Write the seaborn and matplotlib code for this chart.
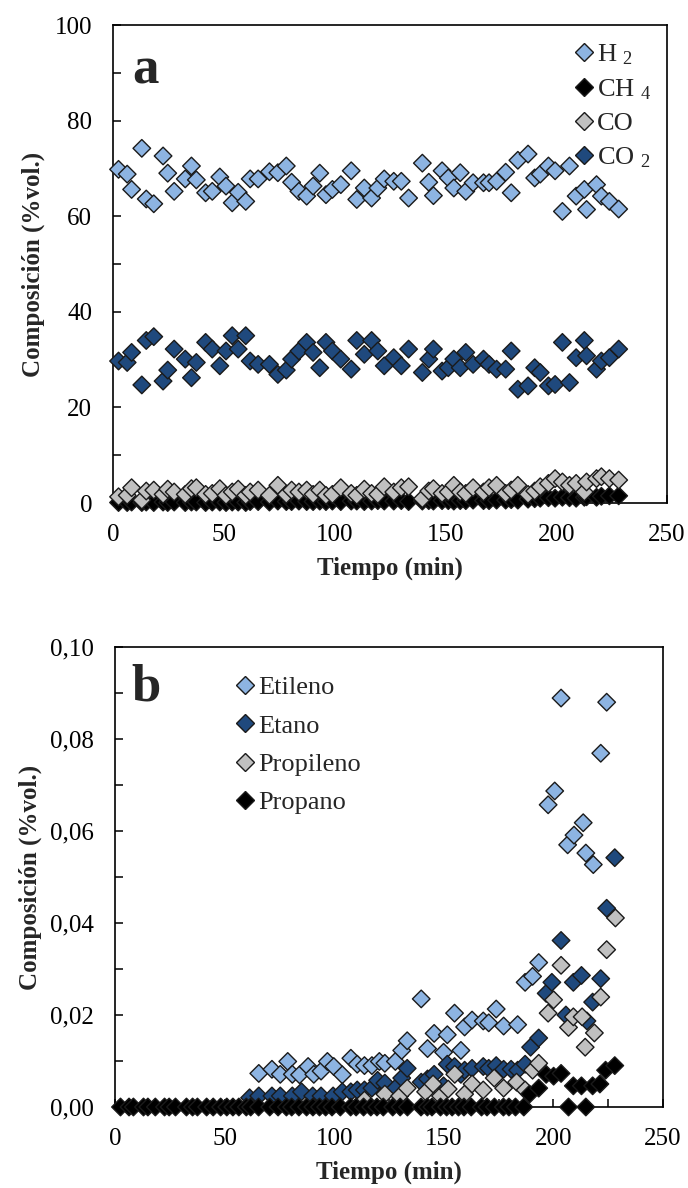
import numpy as np
import pandas as pd
import matplotlib
matplotlib.use("Agg")
import matplotlib.pyplot as plt
import seaborn as sns
from matplotlib.lines import Line2D
from matplotlib.ticker import MultipleLocator, FuncFormatter

# ---------------- datos panel a (gases permanentes, %vol.) ----------------
tiempo = [2.5, 6.4, 8.4, 13.0, 15.0, 18.4, 22.6, 24.7, 27.6, 32.6,
          35.4, 37.6, 41.8, 44.8, 48.2, 51.0, 53.8, 56.5, 59.9, 61.9,
          65.5, 70.6, 74.4, 78.2, 80.6, 83.9, 87.4, 90.3, 93.3, 96.1,
          99.0, 102.8, 107.5, 110.0, 113.4, 116.7, 119.5, 122.4, 126.7, 130.1,
          133.4, 139.6, 142.5, 144.6, 148.5, 151.3, 153.8, 156.7, 159.2, 162.5,
          167.2, 169.7, 173.1, 177.2, 179.7, 182.7, 187.3, 190.3, 192.8, 196.5,
          199.5, 202.8, 206.0, 209.0, 212.7, 213.7, 218.2, 220.4, 224.0, 228.2]

h2 = [69.8, 68.8, 65.6, 74.2, 63.6, 62.6, 72.6, 69.0, 65.2, 67.8,
      70.5, 67.6, 64.9, 65.2, 68.2, 66.3, 62.8, 65.0, 63.1, 67.8,
      67.8, 69.3, 69.1, 70.5, 67.1, 65.2, 64.2, 66.3, 69.0, 64.5,
      65.6, 66.6, 69.5, 63.5, 65.9, 63.8, 65.9, 67.8, 67.3, 67.3,
      63.8, 71.1, 67.1, 64.3, 69.5, 68.0, 65.9, 69.1, 65.2, 67.0,
      67.0, 67.0, 67.3, 69.2, 64.9, 71.7, 73.0, 68.0, 68.8, 70.5,
      69.5, 61.0, 70.5, 64.2, 65.6, 61.4, 66.6, 64.2, 63.1, 61.5]

ch4 = [0.1, 0.1, 0.2, 0.1, 0.2, 0.1, 0.2, 0.1, 0.2, 0.1,
       0.2, 0.2, 0.1, 0.2, 0.2, 0.1, 0.2, 0.2, 0.1, 0.3,
       0.3, 0.2, 0.4, 0.3, 0.3, 0.4, 0.3, 0.3, 0.4, 0.3,
       0.4, 0.3, 0.4, 0.4, 0.3, 0.4, 0.5, 0.4, 0.4, 0.5,
       0.3, 0.4, 0.5, 0.4, 0.5, 0.5, 0.4, 0.5, 0.5, 0.6,
       0.5, 0.5, 0.6, 0.6, 0.7, 0.6, 0.8, 0.9, 1.0, 1.1,
       1.0, 1.2, 1.1, 1.0, 1.2, 1.3, 1.2, 1.4, 1.5, 1.5]

co = [1.3, 1.6, 3.2, 0.6, 2.5, 2.7, 1.8, 2.9, 2.3, 1.8,
      3.0, 3.2, 1.8, 2.0, 3.0, 1.6, 2.3, 2.9, 1.6, 2.3,
      2.7, 1.6, 3.7, 1.8, 2.7, 2.3, 2.7, 1.8, 2.7, 1.6,
      1.8, 3.2, 2.0, 1.6, 2.9, 2.0, 1.8, 3.4, 2.3, 3.2,
      3.4, 0.9, 2.5, 3.0, 2.0, 2.3, 3.7, 2.3, 2.0, 3.2,
      2.3, 3.2, 3.7, 2.0, 2.7, 3.7, 1.8, 2.5, 3.4, 4.1,
      5.1, 4.4, 3.7, 4.1, 2.3, 4.4, 5.1, 5.5, 5.1, 4.8]

co2 = [29.7, 29.4, 31.5, 24.7, 34.0, 34.8, 25.5, 27.8, 32.2, 30.1,
       26.2, 29.4, 33.6, 32.2, 28.7, 31.8, 35.0, 32.2, 35.0, 29.7,
       29.0, 29.0, 26.9, 27.8, 30.1, 31.8, 33.6, 31.5, 28.3, 33.6,
       31.8, 30.1, 28.0, 34.0, 31.1, 34.0, 31.8, 28.7, 30.4, 28.7,
       32.2, 27.3, 30.1, 32.2, 27.6, 28.3, 30.1, 28.3, 31.5, 29.0,
       30.1, 29.0, 28.0, 28.0, 31.8, 23.8, 24.5, 28.3, 27.3, 24.5,
       24.8, 33.6, 25.2, 30.4, 34.0, 30.8, 28.0, 29.7, 30.4, 32.2]

# ---------------- datos panel b (hidrocarburos C2-C3, %vol.) ----------------
t_etileno = [65.6, 71.6, 75.4, 78.8, 80.9, 84.2, 88.1, 90.7, 94.0, 96.9,
             99.8, 103.7, 107.6, 110.5, 113.8, 117.2, 120.6, 123.1, 127.9, 130.8,
             133.3, 139.7, 142.6, 145.6, 149.9, 151.6, 154.9, 157.8, 159.5, 162.9,
             168.0, 170.5, 173.9, 177.3, 183.7, 187.1, 190.5, 193.3, 197.6, 200.6,
             203.5, 206.5, 209.4, 213.6, 214.8, 218.2, 221.6, 224.3]
etileno = [0.0073, 0.0082, 0.0071, 0.0099, 0.0071, 0.0070, 0.0088, 0.0071, 0.0078, 0.0099,
           0.0088, 0.0070, 0.0106, 0.0093, 0.0090, 0.0090, 0.0099, 0.0095, 0.0099, 0.0123,
           0.0144, 0.0235, 0.0127, 0.0160, 0.0119, 0.0157, 0.0204, 0.0123, 0.0174, 0.0189,
           0.0187, 0.0183, 0.0213, 0.0176, 0.0179, 0.0271, 0.0284, 0.0314, 0.0657, 0.0687,
           0.0889, 0.0570, 0.0591, 0.0618, 0.0552, 0.0527, 0.0769, 0.0880]

t_etano = [61.4, 65.6, 71.6, 75.4, 80.9, 85.1, 90.2, 94.0, 99.5, 103.7,
           107.6, 110.5, 113.8, 117.2, 119.8, 123.1, 127.9, 130.8, 133.3, 139.7,
           142.6, 145.6, 149.9, 151.6, 154.9, 157.8, 159.5, 162.9, 168.0, 170.5,
           173.9, 177.3, 180.7, 183.7, 187.1, 189.6, 193.3, 196.7, 199.3, 203.5,
           205.7, 209.1, 212.8, 215.3, 217.9, 221.6, 224.3, 228.0]
etano = [0.0020, 0.0024, 0.0024, 0.0024, 0.0024, 0.0033, 0.0024, 0.0024, 0.0024, 0.0033,
         0.0033, 0.0037, 0.0037, 0.0041, 0.0058, 0.0052, 0.0041, 0.0063, 0.0084, 0.0054,
         0.0061, 0.0071, 0.0046, 0.0093, 0.0088, 0.0071, 0.0080, 0.0084, 0.0088, 0.0084,
         0.0090, 0.0082, 0.0082, 0.0080, 0.0093, 0.0130, 0.0150, 0.0247, 0.0271, 0.0362,
         0.0200, 0.0271, 0.0286, 0.0187, 0.0228, 0.0279, 0.0432, 0.0542]

t_propileno = [113.8, 123.1, 129.9, 133.3, 141.7, 145.1, 148.5, 152.0, 155.0, 159.5,
               162.9, 168.0, 173.0, 177.3, 183.2, 187.1, 190.5, 193.3, 197.6, 200.1,
               203.5, 206.9, 209.1, 213.1, 214.5, 218.7, 221.6, 224.3, 228.3]
propileno = [0.0015, 0.0028, 0.0024, 0.0041, 0.0033, 0.0050, 0.0024, 0.0039, 0.0071, 0.0028,
             0.0050, 0.0037, 0.0063, 0.0041, 0.0054, 0.0037, 0.0080, 0.0095, 0.0204, 0.0233,
             0.0308, 0.0173, 0.0196, 0.0196, 0.0130, 0.0161, 0.0239, 0.0342, 0.0411]

t_propano = [2.5, 6.4, 8.4, 13.0, 15.0, 18.4, 22.6, 24.7, 27.6, 32.6,
             35.4, 37.6, 41.8, 44.8, 48.2, 51.0, 53.8, 56.5, 59.9, 61.9,
             65.5, 70.6, 74.4, 78.2, 80.6, 83.9, 87.4, 90.3, 93.3, 96.1,
             99.0, 102.8, 107.5, 110.0, 113.4, 116.7, 119.5, 122.4, 126.7, 130.1,
             133.4, 139.6, 142.5, 144.6, 148.5, 151.3, 153.8, 156.7, 159.2, 162.5,
             167.2, 169.7, 173.1, 177.2, 179.7, 182.7, 186.5, 189.1, 193.3, 196.7,
             200.1, 203.5, 206.9, 209.1, 212.8, 214.8, 217.9, 221.2, 223.8, 228.0]
propano = [0.0, 0.0, 0.0, 0.0, 0.0, 0.0, 0.0, 0.0, 0.0, 0.0,
           0.0, 0.0, 0.0, 0.0, 0.0, 0.0, 0.0, 0.0, 0.0, 0.0,
           0.0, 0.0, 0.0, 0.0, 0.0, 0.0, 0.0, 0.0, 0.0, 0.0,
           0.0, 0.0, 0.0, 0.0, 0.0, 0.0, 0.0, 0.0, 0.0, 0.0,
           0.0, 0.0, 0.0, 0.0, 0.0, 0.0, 0.0, 0.0, 0.0, 0.0,
           0.0, 0.0, 0.0, 0.0, 0.0, 0.0, 0.0, 0.0028, 0.0041, 0.0071,
           0.0067, 0.0073, 0.0, 0.0046, 0.0046, 0.0, 0.0046, 0.0050, 0.0080, 0.0090]

# colores
AZUL_CLARO = "#8DB4E2"
AZUL_OSCURO = "#1F497D"
GRIS = "#C0C0C0"
NEGRO = "#000000"
BORDE = "#1a1a1a"

series_a = [("H $_2$", tiempo, h2, AZUL_CLARO),
            ("CH $_4$", tiempo, ch4, NEGRO),
            ("CO", tiempo, co, GRIS),
            ("CO $_2$", tiempo, co2, AZUL_OSCURO)]
series_b = [("Etileno", t_etileno, etileno, AZUL_CLARO),
            ("Etano", t_etano, etano, AZUL_OSCURO),
            ("Propileno", t_propileno, propileno, GRIS),
            ("Propano", t_propano, propano, NEGRO)]

sns.set_style("ticks")
plt.rcParams["font.family"] = ["Liberation Serif", "DejaVu Serif"]
plt.rcParams["mathtext.fontset"] = "custom"
plt.rcParams["mathtext.rm"] = "Liberation Serif"
plt.rcParams["mathtext.it"] = "Liberation Serif:italic"
plt.rcParams["mathtext.bf"] = "Liberation Serif:bold"

FS = 18
FS_LEG = 19
S_MARK = 80
MS_LEG = 9.0


def armar_df(series):
    partes = []
    for nombre, t, v, _ in series:
        partes.append(pd.DataFrame({"Tiempo": t, "Comp": v, "Serie": nombre}))
    return pd.concat(partes, ignore_index=True)


def dibujar_panel(ax, series, ymax, ymaj, ymin_step):
    df = armar_df(series)
    paleta = {n: c for n, _, _, c in series}
    sns.scatterplot(data=df, x="Tiempo", y="Comp", hue="Serie", palette=paleta,
                    marker="D", s=S_MARK, edgecolor=BORDE, linewidth=1.0,
                    legend=False, ax=ax, clip_on=False, zorder=3)
    ax.set_xlim(0, 250)
    ax.set_ylim(0, ymax)
    ax.xaxis.set_major_locator(MultipleLocator(50))
    ax.xaxis.set_minor_locator(MultipleLocator(25))
    ax.yaxis.set_major_locator(MultipleLocator(ymaj))
    ax.yaxis.set_minor_locator(MultipleLocator(ymin_step))
    ax.tick_params(which="both", direction="in", length=5.5, width=1.1,
                   top=False, right=False, colors="black")
    ax.tick_params(axis="x", which="major", pad=15, labelsize=FS)
    ax.tick_params(axis="y", which="major", pad=15, labelsize=FS)
    for sp in ax.spines.values():
        sp.set_color("black")
        sp.set_linewidth(1.2)
    ax.set_xlabel("Tiempo (min)", fontsize=FS, fontweight="bold")
    ax.set_ylabel("Composición (%vol.)", fontsize=FS, fontweight="bold")
    handles = [Line2D([], [], ls="none", marker="D", markersize=MS_LEG,
                      markerfacecolor=c, markeredgecolor=BORDE, markeredgewidth=1.0)
               for _, _, _, c in series]
    etiquetas = [n for n, _, _, _ in series]
    return handles, etiquetas


fig = plt.figure(figsize=(6.88, 11.88), dpi=100)
ax_a = fig.add_axes([113 / 688, 1 - 503 / 1188, 554 / 688, 478 / 1188])
ax_b = fig.add_axes([115 / 688, 1 - 1107 / 1188, 548 / 688, 460 / 1188])

h_a, l_a = dibujar_panel(ax_a, series_a, 100, 20, 10)
h_b, l_b = dibujar_panel(ax_b, series_b, 0.10, 0.02, 0.01)
ax_b.yaxis.set_major_formatter(FuncFormatter(lambda v, p: f"{v:.2f}".replace(".", ",")))

ax_a.xaxis.set_label_coords(0.5, -0.112)
ax_b.xaxis.set_label_coords(0.5, -0.117)
ax_a.yaxis.set_label_coords(-0.123, 0.5)
ax_b.yaxis.set_label_coords(-0.133, 0.5)

ax_a.legend(h_a, l_a, loc="upper left", bbox_to_anchor=(0.836, 0.963),
            frameon=False, fontsize=FS_LEG, handlelength=0.6, handletextpad=0.2,
            labelspacing=0.38, borderpad=0, borderaxespad=0)
ax_b.legend(h_b, l_b, loc="upper left", bbox_to_anchor=(0.222, 0.937),
            frameon=False, fontsize=FS_LEG, handlelength=0.6, handletextpad=0.2,
            labelspacing=0.56, borderpad=0, borderaxespad=0)

ax_a.text(0.058, 0.877, "a", transform=ax_a.transAxes, ha="center", va="baseline",
          fontsize=38, fontweight="bold")
ax_b.text(0.057, 0.883, "b", transform=ax_b.transAxes, ha="center", va="baseline",
          fontsize=38, fontweight="bold")

fig.savefig("out.png", dpi=100)
